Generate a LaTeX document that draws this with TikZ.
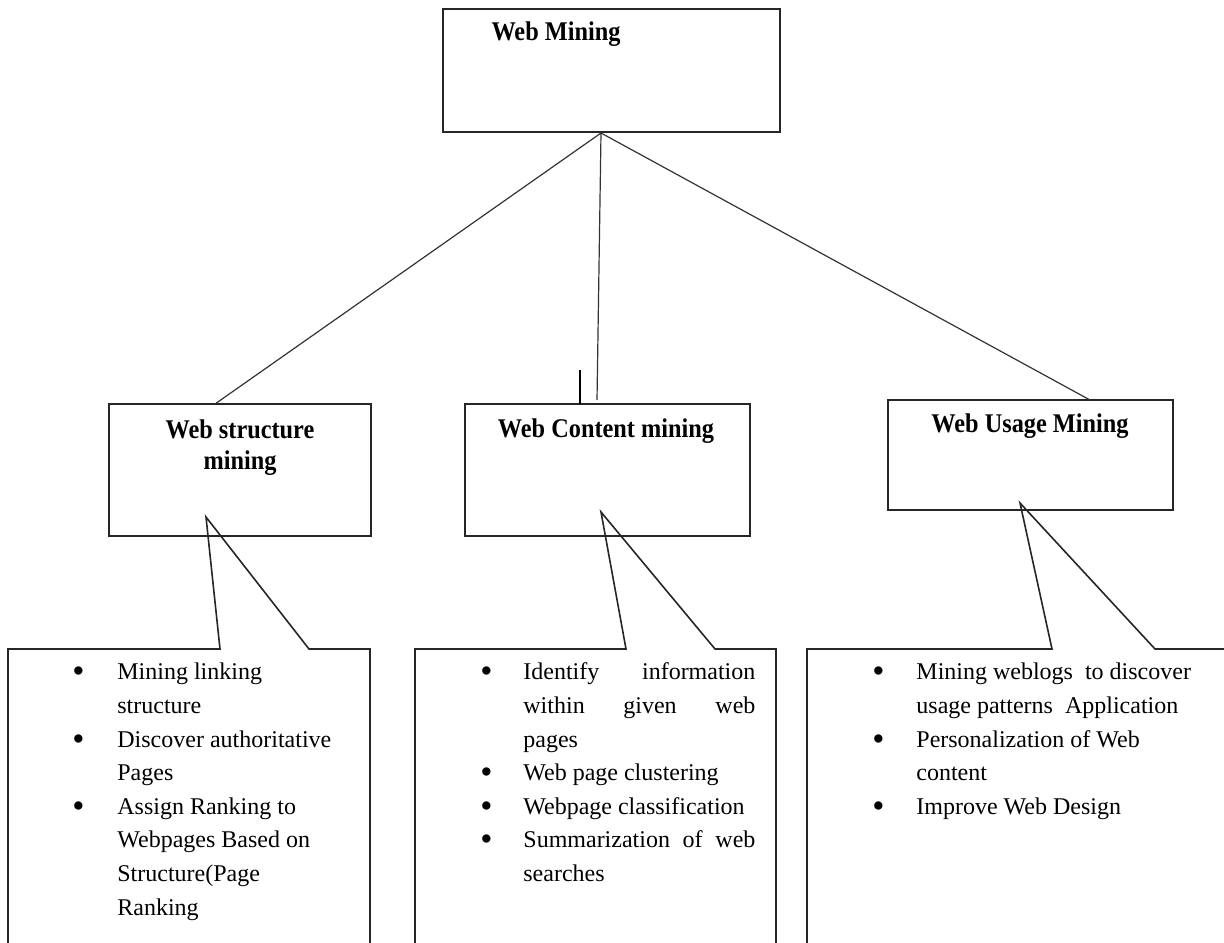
\documentclass[tikz,border=0pt]{standalone}
\usepackage{fontspec}
\usepackage{graphicx}
\setmainfont{Liberation Serif}
\newcommand{\bigbul}{\raisebox{-1.5pt}{\scalebox{1.45}{\textbullet}}}
\begin{document}
\begin{tikzpicture}[x=0.5pt,y=-0.5pt,
  boxline/.style={draw=black!85, line width=0.8pt},
  mainbox/.style={boxline, rectangle, inner sep=0pt},
  thinline/.style={draw=black!80, line width=0.6pt},
  title/.style={inner sep=0pt, font=\bfseries\fontsize{13.5}{16.8}\selectfont},
  listtext/.style={anchor=north west, inner sep=0pt, font=\fontsize{12}{16.8}\selectfont}
]
\useasboundingbox (0,0) rectangle (1224,942);

% main boxes
\node[mainbox, minimum width=168.5pt, minimum height=61.5pt] (wm) at (611.5,70.5) {};
\node[mainbox, minimum width=131pt, minimum height=66pt] (ws) at (240,470) {};
\node[mainbox, minimum width=142.5pt, minimum height=66pt] (wc) at (607.5,470) {};
\node[mainbox, minimum width=142.5pt, minimum height=55pt] (wu) at (1030.5,455) {};

% titles
\node[title] (twm) at (556,34) {\scalebox{0.9}[1]{Web Mining}};
\node[title] (tws1) at (240,429) {\scalebox{0.9}[1]{Web structure}};
\node[title] (tws2) at (240,463) {\scalebox{0.9}[1]{mining}};
\node[title] (twc) at (606,431) {\scalebox{0.9}[1]{Web Content mining}};
\node[title] (twu) at (1030,426) {\scalebox{0.9}[1]{Web Usage Mining}};

% connectors from Web Mining
\coordinate (apex) at (601,133);
\coordinate (ends) at (215,404);
\coordinate (endc) at (597,400);
\coordinate (endu) at (1090,400);
\draw[thinline] (apex) -- (ends);
\draw[thinline] (apex) -- (endc);
\draw[thinline] (apex) -- (endu);
\coordinate (ticktop) at (580,370);
\coordinate (tickbot) at (580,404);
\draw[black, line width=1.1pt] (ticktop) -- (tickbot);

% callouts (open at the bottom)
\coordinate (cs) at (206,517);
\coordinate (cc) at (601,512);
\coordinate (cu) at (1020,503);
\draw[boxline, line join=miter] (8,950) -- (8,649) -- (220,649) -- (cs) -- (309,649) -- (370,649) -- (370,950);
\draw[boxline, line join=miter] (415,950) -- (415,649) -- (626,649) -- (cc) -- (715,649) -- (776,649) -- (776,950);
\draw[boxline, line join=miter] (807,950) -- (807,649) -- (1052,649) -- (cu) -- (1155,649) -- (1240,649);

% lists
\node[listtext] (ls) at (72,656) {%
\begin{tabular}{@{}p{22.5pt}@{}l@{}}
\bigbul & Mining linking\\
 & structure\\
\bigbul & Discover authoritative\\
 & Pages\\
\bigbul & Assign Ranking to\\
 & Webpages Based on\\
 & Structure(Page\\
 & Ranking
\end{tabular}};

\node[listtext] (lc) at (480,656) {%
\begin{tabular}{@{}p{21.5pt}@{}l@{}}
\bigbul & \makebox[116pt][s]{Identify \hfill information}\\
 & \makebox[116pt][s]{within \hfill given \hfill web}\\
 & pages\\
\bigbul & Web page clustering\\
\bigbul & Webpage classification\\
\bigbul & \makebox[116pt][s]{Summarization \hfill of \hfill web}\\
 & searches
\end{tabular}};

\node[listtext] (lu) at (872,656) {%
\begin{tabular}{@{}p{22pt}@{}l@{}}
\bigbul & Mining weblogs\ \ to discover\\
 & usage patterns\ \ Application\\
\bigbul & Personalization of Web\\
 & content\\
\bigbul & Improve Web Design
\end{tabular}};
\end{tikzpicture}
\end{document}
